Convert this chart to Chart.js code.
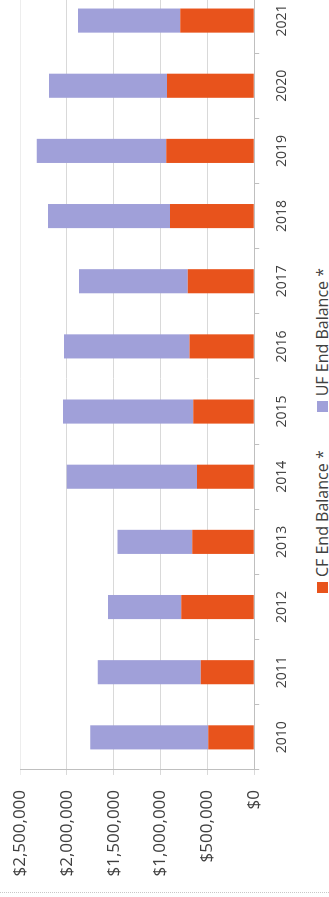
<!DOCTYPE html>
<html>
<head>
<meta charset="utf-8">
<script src="https://cdn.jsdelivr.net/npm/chart.js@4/dist/chart.umd.min.js"></script>
<style>
  html, body { margin: 0; padding: 0; background: #fff; overflow: hidden; }
  body { width: 329px; height: 897px; position: relative; }
  /* chart is laid out as a normal column chart, then turned a quarter turn */
  #wrap {
    position: absolute; left: 0; top: 0;
    width: 933px; height: 340px;
    transform-origin: 0 0;
    transform: translate(0, 897px) rotate(-90deg);
    font-family: 'Open Sans', sans-serif;
  }
  #balanceChart { position: absolute; left: 0; top: 0; }
  #frame { position: absolute; left: 4px; top: 0; width: 0; height: 329px; border-left: 1px dotted #c8c8c8; }
  #legend {
    position: absolute; left: 0; top: 312px; width: 933px; height: 20px;
    display: flex; justify-content: center; align-items: center; gap: 38px;
    font-size: 16px; color: #404040; white-space: nowrap;
  }
  #legend .item { display: flex; align-items: center; }
  #legend .box { width: 11px; height: 11px; margin-right: 5px; }
</style>
</head>
<body>
<div id="wrap">
  <div id="frame"></div>
  <canvas id="balanceChart" width="933" height="305"></canvas>
  <div id="legend"></div>
</div>
<script>
const years = ['2010', '2011', '2012', '2013', '2014', '2015', '2016', '2017', '2018', '2019', '2020', '2021']
const cfEndBalance = [490000, 570000, 780000, 660000, 610000, 650000, 690000, 710000, 900000, 940000, 930000, 790000]
const ufEndBalance = [1260000, 1100000, 780000, 800000, 1390000, 1390000, 1340000, 1160000, 1300000, 1380000, 1260000, 1090000]
const valueTicks = [0, 500000, 1000000, 1500000, 2000000, 2500000]

const FONT = "'Open Sans', sans-serif"
const TEXT = '#404040'

var ctx = document.getElementById('balanceChart')
var myChart = new Chart(ctx, {
    type: 'bar',
    data: {
        labels: years,
        datasets: [{
            label: 'CF End Balance *',
            data: cfEndBalance,
            backgroundColor: '#E8531C',
            barPercentage: 0.37,
            categoryPercentage: 1
        }, {
            label: 'UF End Balance *',
            data: ufEndBalance,
            backgroundColor: '#A0A0D9',
            barPercentage: 0.37,
            categoryPercentage: 1
        }]
    },
    options: {
        responsive: false,
        animation: false,
        devicePixelRatio: 1,
        layout: { padding: { left: 5.5, right: 24, top: 20, bottom: 0 } },
        plugins: {
            tooltip: { enabled: false },
            legend: { display: false }
        },
        scales: {
            x: {
                stacked: true,
                border: { color: '#bfbfbf' },
                grid: { drawOnChartArea: false, tickLength: 5, color: '#bfbfbf' },
                ticks: { font: { family: FONT, size: 14 }, color: TEXT, padding: 14.5, maxRotation: 0, autoSkip: false }
            },
            y: {
                stacked: true,
                min: 0,
                max: 2500000,
                border: { color: '#bfbfbf' },
                grid: {
                    tickLength: 5,
                    color: (c) => c.tick && c.tick.value === 2500000 ? '#ededed' : '#d9d9d9'
                },
                afterBuildTicks: (scale) => { scale.ticks = valueTicks.map(v => ({ value: v })) },
                // top label fits inside the layout padding already
                afterFit: (scale) => { scale.paddingTop = 0 },
                ticks: {
                    font: { family: FONT, size: 17 },
                    color: TEXT,
                    padding: 15,
                    callback: (v) => '$' + v.toLocaleString('en-US')
                }
            }
        }
    }
})

// legend built from the chart's own datasets
const legendEl = document.getElementById('legend')
myChart.data.datasets.forEach(ds => {
    const item = document.createElement('span')
    item.className = 'item'
    const box = document.createElement('span')
    box.className = 'box'
    box.style.background = ds.backgroundColor
    item.appendChild(box)
    item.appendChild(document.createTextNode(ds.label))
    legendEl.appendChild(item)
})
</script>
</body>
</html>
